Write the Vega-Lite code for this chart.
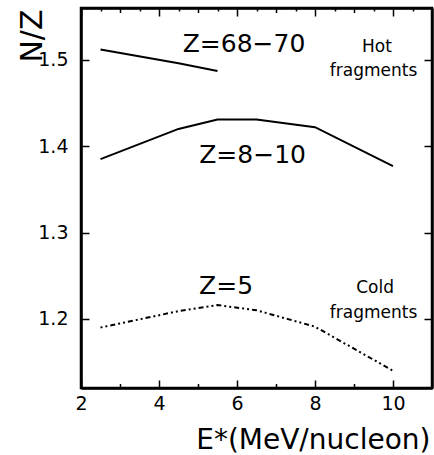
{
  "$schema": "https://vega.github.io/schema/vega-lite/v6.json",
  "width": 351,
  "height": 380,
  "autosize": "none",
  "padding": {"left": 81, "top": 8, "right": 2, "bottom": 67},
  "background": "white",
  "config": {
    "view": {"stroke": "black", "strokeWidth": 2.5},
    "font": "DejaVu Sans"
  },
  "datasets": {
    "curves": [
      {"s": "Z=68-70", "E": 2.5, "NZ": 1.512},
      {"s": "Z=68-70", "E": 4.5, "NZ": 1.496},
      {"s": "Z=68-70", "E": 5.5, "NZ": 1.487},
      {"s": "Z=8-10", "E": 2.5, "NZ": 1.385},
      {"s": "Z=8-10", "E": 4.5, "NZ": 1.420},
      {"s": "Z=8-10", "E": 5.5, "NZ": 1.431},
      {"s": "Z=8-10", "E": 6.5, "NZ": 1.431},
      {"s": "Z=8-10", "E": 8, "NZ": 1.422},
      {"s": "Z=8-10", "E": 10, "NZ": 1.377},
      {"s": "Z=5", "E": 2.5, "NZ": 1.190},
      {"s": "Z=5", "E": 4.5, "NZ": 1.209},
      {"s": "Z=5", "E": 5.5, "NZ": 1.216},
      {"s": "Z=5", "E": 6.5, "NZ": 1.210},
      {"s": "Z=5", "E": 8, "NZ": 1.191},
      {"s": "Z=5", "E": 10, "NZ": 1.140}
    ],
    "zlabels": [
      {"label": "Z=68−70", "E": 6.18, "NZ": 1.509},
      {"label": "Z=8−10", "E": 6.40, "NZ": 1.3805},
      {"label": "Z=5", "E": 5.72, "NZ": 1.2285}
    ],
    "notes": [
      {"label": "Hot", "E": 9.59, "NZ": 1.509},
      {"label": "fragments", "E": 9.5, "NZ": 1.4813},
      {"label": "Cold", "E": 9.54, "NZ": 1.23},
      {"label": "fragments", "E": 9.5, "NZ": 1.201}
    ]
  },
  "layer": [
    {
      "data": {"name": "curves"},
      "transform": [{"filter": "datum.s !== 'Z=5'"}],
      "mark": {"type": "line", "color": "black", "strokeWidth": 2},
      "encoding": {
        "x": {
          "field": "E", "type": "quantitative",
          "scale": {"domain": [2, 11], "nice": false, "zero": false},
          "axis": {
            "orient": "bottom",
            "gridOpacity": 0,
            "domainColor": "black",
            "domainWidth": 2.5,
            "tickColor": "black",
            "tickWidth": 1.5,
            "values": [2, 2.5, 3, 3.5, 4, 4.5, 5, 5.5, 6, 6.5, 7, 7.5, 8, 8.5, 9, 9.5, 10, 10.5],
            "format": "d",
            "labelExpr": "datum.value % 2 === 0 ? datum.label : ''",
            "tickSize": -8,
            "tickDash": {"condition": [{"test": "datum.value % 2 === 0", "value": [8, 0]}, {"test": "datum.value % 1 === 0", "value": [4.5, 20]}], "value": [3, 20]},
            "labelFont": "DejaVu Sans",
            "labelColor": "black",
            "labelFontSize": 19,
            "labelPadding": 14,
            "labelFlush": false,
            "labelOverlap": false,
            "title": "E*(MeV/nucleon)",
            "titleFont": "DejaVu Sans",
            "titleFontWeight": "normal",
            "titleColor": "black",
            "titleFontSize": 28,
            "titleAnchor": "end",
            "titleAlign": "right",
            "titleBaseline": "alphabetic",
            "titleX": 349,
            "titleY": 60
          }
        },
        "y": {
          "field": "NZ", "type": "quantitative",
          "scale": {"domain": [1.12, 1.56], "nice": false, "zero": false},
          "axis": {
            "orient": "left",
            "gridOpacity": 0,
            "domainColor": "black",
            "domainWidth": 2.5,
            "tickColor": "black",
            "tickWidth": 1.5,
            "values": [1.2, 1.3, 1.4, 1.5],
            "format": ".1f",
            "tickSize": -8,
            "labelFont": "DejaVu Sans",
            "labelColor": "black",
            "labelFontSize": 19,
            "labelPadding": 21,
            "labelBaseline": "middle",
            "title": "N/Z",
            "titleFont": "DejaVu Sans",
            "titleFontWeight": "normal",
            "titleColor": "black",
            "titleFontSize": 30,
            "titleAngle": -90,
            "titleAnchor": "end",
            "titleAlign": "right",
            "titleBaseline": "middle",
            "titleX": -48.5,
            "titleY": 1
          }
        },
        "detail": {"field": "s"}
      }
    },
    {
      "data": {"name": "curves"},
      "transform": [{"filter": "datum.s === 'Z=5'"}],
      "mark": {"type": "line", "color": "black", "strokeWidth": 2, "strokeDash": [2, 3, 2, 3, 5, 3]},
      "encoding": {
        "x": {
          "field": "E", "type": "quantitative",
          "axis": {
            "orient": "top",
            "gridOpacity": 0,
            "domainColor": "black",
            "domainWidth": 2.5,
            "tickColor": "black",
            "tickWidth": 1.5,
            "values": [2, 2.5, 3, 3.5, 4, 4.5, 5, 5.5, 6, 6.5, 7, 7.5, 8, 8.5, 9, 9.5, 10, 10.5],
            "labels": false,
            "tickSize": -8,
            "tickDash": {"condition": [{"test": "datum.value % 2 === 0", "value": [8, 0]}, {"test": "datum.value % 1 === 0", "value": [4.5, 20]}], "value": [3, 20]},
            "title": null
          }
        },
        "y": {
          "field": "NZ", "type": "quantitative",
          "axis": {
            "orient": "right",
            "gridOpacity": 0,
            "domainColor": "black",
            "domainWidth": 2.5,
            "tickColor": "black",
            "tickWidth": 1.5,
            "values": [1.2, 1.3, 1.4, 1.5],
            "labels": false,
            "tickSize": -8,
            "title": null
          }
        }
      }
    },
    {
      "data": {"name": "zlabels"},
      "mark": {"type": "text", "fontSize": 25, "color": "black", "align": "center", "baseline": "alphabetic", "font": "DejaVu Sans"},
      "encoding": {
        "x": {"field": "E", "type": "quantitative", "axis": null},
        "y": {"field": "NZ", "type": "quantitative", "axis": null},
        "text": {"field": "label"}
      }
    },
    {
      "data": {"name": "notes"},
      "mark": {"type": "text", "fontSize": 17, "color": "black", "align": "center", "baseline": "alphabetic", "font": "DejaVu Sans"},
      "encoding": {
        "x": {"field": "E", "type": "quantitative", "axis": null},
        "y": {"field": "NZ", "type": "quantitative", "axis": null},
        "text": {"field": "label"}
      }
    }
  ],
  "resolve": {"axis": {"x": "independent", "y": "independent"}}
}
